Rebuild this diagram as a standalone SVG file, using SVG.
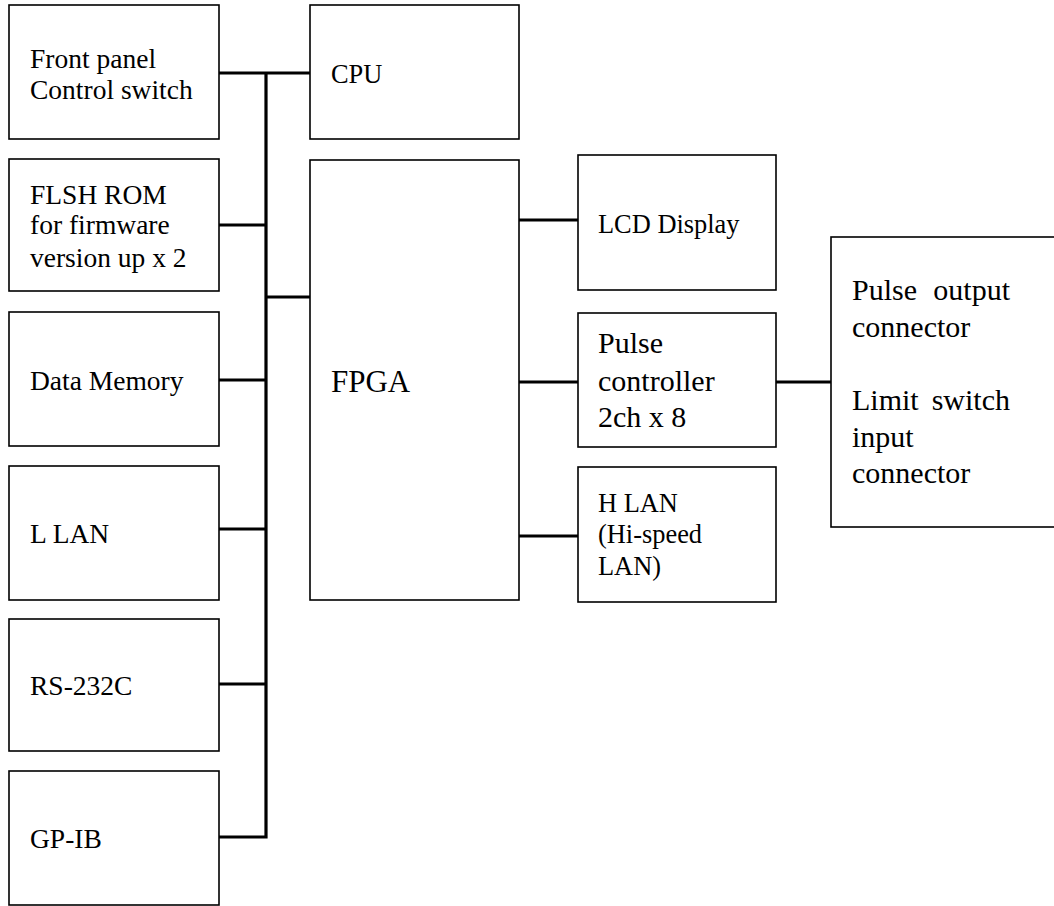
<svg xmlns="http://www.w3.org/2000/svg" width="1054" height="906" viewBox="0 0 1054 906">
<style>
.box{fill:#fff;stroke:#000;stroke-width:1.6}
.t{font-family:"Liberation Serif","Times New Roman",serif;fill:#000}
.s27{font-size:27.5px}
.s26{font-size:26.4px}
.s30{font-size:30px}
.s31{font-size:31px}
.wire{fill:none;stroke:#000;stroke-width:3.2;stroke-linejoin:miter}
</style>
<rect width="1054" height="906" fill="#fff"/>
<g id="connectors">
<path class="wire" d="M219,837 H266 V73"/>
<path class="wire" d="M219,73 H310"/>
<path class="wire" d="M219,225 H266"/>
<path class="wire" d="M266,297 H310"/>
<path class="wire" d="M219,380 H266"/>
<path class="wire" d="M219,529 H266"/>
<path class="wire" d="M219,684 H266"/>
<path class="wire" d="M519,220 H578"/>
<path class="wire" d="M519,382 H578"/>
<path class="wire" d="M519,536 H578"/>
<path class="wire" d="M776,382 H831"/>
</g>
<g id="front-panel">
<rect class="box" x="9" y="5" width="210" height="134"/>
<text class="t s27" x="30" y="67.5">Front panel</text>
<text class="t s27" x="30" y="99">Control switch</text>
</g>
<g id="flsh-rom">
<rect class="box" x="9" y="159" width="210" height="132"/>
<text class="t s27" x="30" y="204">FLSH ROM</text>
<text class="t s27" x="30" y="234">for firmware</text>
<text class="t s27" x="30" y="266.5">version up x 2</text>
</g>
<g id="data-memory">
<rect class="box" x="9" y="312" width="210" height="134"/>
<text class="t s27" x="30" y="390">Data Memory</text>
</g>
<g id="l-lan">
<rect class="box" x="9" y="466" width="210" height="134"/>
<text class="t s27" x="30" y="542.5">L LAN</text>
</g>
<g id="rs232c">
<rect class="box" x="9" y="619" width="210" height="132"/>
<text class="t s27" x="30" y="695">RS-232C</text>
</g>
<g id="gpib">
<rect class="box" x="9" y="771" width="210" height="134"/>
<text class="t s27" x="30" y="848">GP-IB</text>
</g>
<g id="cpu">
<rect class="box" x="310" y="5" width="209" height="134"/>
<text class="t s26" x="331" y="82.5">CPU</text>
</g>
<g id="fpga">
<rect class="box" x="310" y="160" width="209" height="440"/>
<text class="t s31" x="331" y="391.5">FPGA</text>
</g>
<g id="lcd">
<rect class="box" x="578" y="155" width="198" height="135"/>
<text class="t s26" x="598" y="233">LCD Display</text>
</g>
<g id="pulse-controller">
<rect class="box" x="578" y="313" width="198" height="134"/>
<text class="t s30" x="598" y="353">Pulse</text>
<text class="t s30" x="598" y="390.5">controller</text>
<text class="t s30" x="598" y="427">2ch x 8</text>
</g>
<g id="h-lan">
<rect class="box" x="578" y="467" width="198" height="135"/>
<text class="t s26" x="598" y="511.5">H LAN</text>
<text class="t s26" x="598" y="543">(Hi-speed</text>
<text class="t s26" x="598" y="575">LAN)</text>
</g>
<g id="connector-box">
<rect class="box" x="831" y="237" width="240" height="290"/>
<text class="t s30" x="852" y="300">Pulse</text>
<text class="t s30" x="1010" y="300" text-anchor="end">output</text>
<text class="t s30" x="852" y="336.5">connector</text>
<text class="t s30" x="852" y="410">Limit</text>
<text class="t s30" x="1010" y="410" text-anchor="end">switch</text>
<text class="t s30" x="852" y="446.5">input</text>
<text class="t s30" x="852" y="483">connector</text>
</g>
</svg>
